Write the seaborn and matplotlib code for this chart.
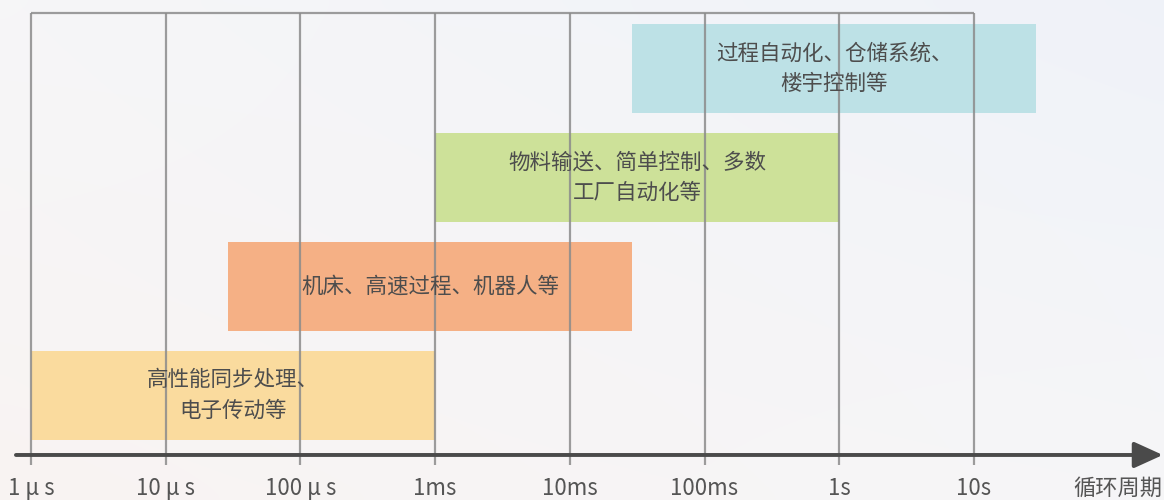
import numpy as np
import matplotlib
matplotlib.use("Agg")
import matplotlib.pyplot as plt
import matplotlib.transforms as mtransforms
import seaborn as sns

# ---- data ----
categories = ["过程自动化、仓储系统、\n楼宇控制等",
              "物料输送、简单控制、多数\n工厂自动化等",
              "机床、高速过程、机器人等",
              "高性能同步处理、\n电子传动等"]
start_s = [2.9e-2, 1e-3, 2.9e-5, 1e-6]      # cycle period start (seconds)
end_s = [29.0, 1.0, 2.9e-2, 1e-3]          # cycle period end (seconds)
bar_colors = ["#bde1e6", "#cde199", "#f5b085", "#fadb9e"]
tick_values = [1e-6, 1e-5, 1e-4, 1e-3, 1e-2, 1e-1, 1, 10]
tick_labels = ["1 μ s", "10 μ s", "100 μ s", "1ms", "10ms", "100ms", "1s", "10s"]
axis_title = "循环周期"

sns.set_theme(style="white")
plt.rcParams['font.family'] = ['Noto Sans CJK SC', 'DejaVu Sans']

fig = plt.figure(figsize=(11.64, 5.0), dpi=100)

# background (faded sky)
bg = fig.add_axes([0, 0, 1, 1], zorder=0)
gy, gx = np.mgrid[0:1:50j, 0:1:100j]
base = np.array([0.965, 0.965, 0.972])
warm = np.array([0.975, 0.955, 0.950])
cool = np.array([0.940, 0.950, 0.975])
w_warm = np.clip((1 - gx) * gy, 0, 1)[..., None]
w_cool = np.clip(gx * (1 - gy), 0, 1)[..., None]
img = base * (1 - w_warm - w_cool) + warm * w_warm + cool * w_cool
bg.imshow(img, aspect="auto", extent=[0, 1, 1, 0], interpolation="bicubic")
bg.set_axis_off()

ax = fig.add_axes([0, 0, 1, 1], zorder=1)
ax.patch.set_alpha(0)
ax.set_xscale("log")
px_per_dec = 134.7
x0 = 31.0
ax.set_xlim(10 ** (-6 - x0 / px_per_dec), 10 ** (-6 + (1164 - x0) / px_per_dec))
ax.set_ylim(3.959, -0.628)
ax.set_axis_off()

ypos = np.arange(len(categories))
widths = np.array(end_s) - np.array(start_s)
ax.barh(ypos, widths, left=start_s, height=0.8165, color=bar_colors,
        edgecolor="none", zorder=2)

for y, s, e, lab in zip(ypos, start_s, end_s, categories):
    xc = np.sqrt(s * e)
    ax.text(xc, y, lab, ha="center", va="center", multialignment="center",
            fontsize=15.5, color="#4d4d4d", linespacing=1.5, zorder=4)

grid_top, grid_bot = -0.509, 3.638
ax.vlines(tick_values, grid_top, grid_bot, color="#8c8c8c", lw=1.6,
          alpha=0.85, zorder=3)
ax.hlines(grid_top, tick_values[0], tick_values[-1], color="#8c8c8c",
          lw=1.6, alpha=0.85, zorder=3)

# axis arrow
y_axis = 3.546
ax.annotate("", xy=(0.999, y_axis), xytext=(0.0137, y_axis),
            xycoords=("axes fraction", "data"),
            textcoords=("axes fraction", "data"),
            arrowprops=dict(arrowstyle="-|>,head_length=1.1,head_width=0.5",
                            lw=2.8, color="#4a4a4a", shrinkA=0, shrinkB=0,
                            mutation_scale=16),
            zorder=5)

for v, lab in zip(tick_values, tick_labels):
    ax.text(v, 3.85, lab, ha="center", va="center", fontsize=16,
            color="#555555", zorder=5)
blend = mtransforms.blended_transform_factory(ax.transAxes, ax.transData)
ax.text(0.9605, 3.85, axis_title, transform=blend,
        ha="center", va="center", fontsize=16, color="#555555", zorder=5)

fig.savefig("out.png", dpi=100)
